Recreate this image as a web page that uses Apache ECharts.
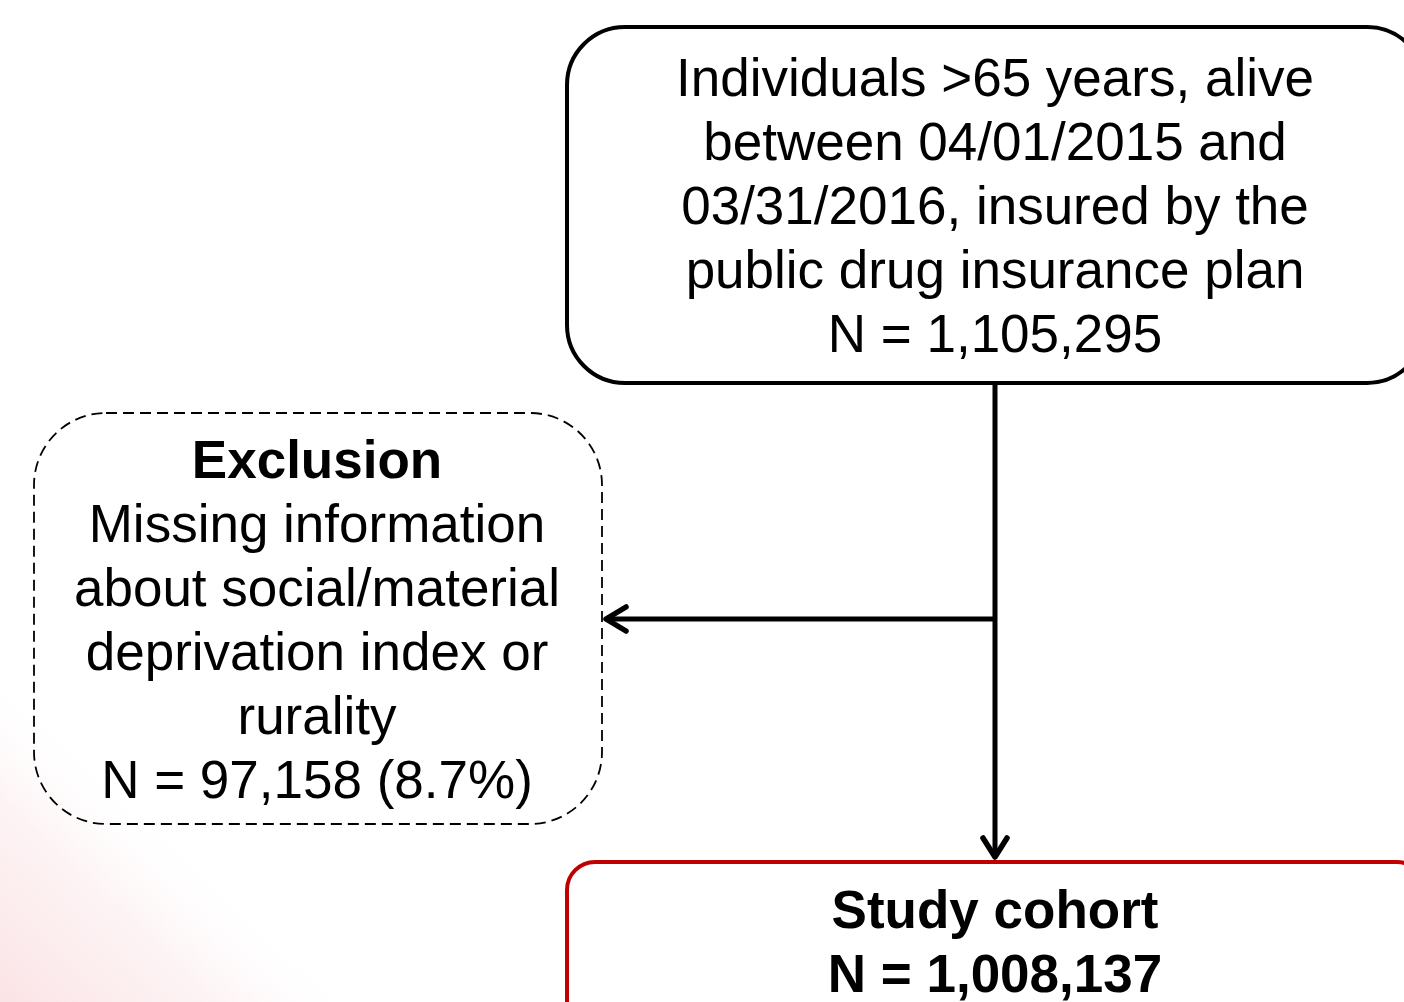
<!DOCTYPE html>
<html>
<head>
<meta charset="utf-8">
<script src="https://cdn.jsdelivr.net/npm/echarts@6/dist/echarts.min.js"></script>
<style>
  html, body { margin: 0; padding: 0; background: #fff; }
  #flow { width: 1404px; height: 1002px; }
</style>
</head>
<body>
<div id="flow"></div>
<script>
// flowchart content
var inclusionLines = ['Individuals >65 years, alive', 'between 04/01/2015 and', '03/31/2016, insured by the', 'public drug insurance plan'];
var inclusionN = 1105295;
var exclusionTitle = 'Exclusion';
var exclusionLines = ['Missing information', 'about social/material', 'deprivation index or', 'rurality'];
var exclusionN = 97158;
var exclusionPct = 8.7;
var cohortTitle = 'Study cohort';
var cohortN = 1008137;

function fmt(n) {
    return 'N = ' + n.toLocaleString('en-US');
}

var chart = echarts.init(document.getElementById('flow'));
var FONT = '"Liberation Sans", Arial, sans-serif';
var LINE_H = 64;

// text block helper, one text element per line
function textBlock(lines, cx, y0, bold) {
    return lines.map(function (t, i) {
        return {
            type: 'text',
            x: cx,
            y: y0 + i * LINE_H,
            style: {
                text: t,
                fill: '#000',
                font: (bold && bold[i] ? 'bold ' : '') + '53px ' + FONT,
                align: 'center',
                verticalAlign: 'middle'
            }
        };
    });
}

var topText = inclusionLines.concat([fmt(inclusionN)]);
var exclText = [exclusionTitle].concat(exclusionLines, [fmt(exclusionN) + ' (' + exclusionPct + '%)']);
var cohortText = [cohortTitle, fmt(cohortN)];

var elements = [
    /*淡粉色背景*/
    {
        type: 'polygon',
        shape: { points: [[0, 640], [340, 1002], [0, 1002]] },
        style: {
            fill: new echarts.graphic.LinearGradient(0, 1, 1, 0, [
                { offset: 0, color: 'rgba(248,208,212,0.6)' },
                { offset: 0.3, color: 'rgba(250,222,225,0.35)' },
                { offset: 0.5, color: 'rgba(255,255,255,0)' },
                { offset: 1, color: 'rgba(255,255,255,0)' }
            ])
        },
        z: 0
    },
    // 顶部框
    {
        type: 'rect',
        shape: { x: 567, y: 27, width: 858, height: 356, r: 58 },
        style: { fill: '#fff', stroke: '#000', lineWidth: 4 },
        z: 1
    },
    // 排除框 (虚线)
    {
        type: 'rect',
        shape: { x: 34, y: 413, width: 568, height: 411, r: 72 },
        style: { fill: 'rgba(255,255,255,0)', stroke: '#000', lineWidth: 1.8, lineDash: [11, 6] },
        z: 1
    },
    // 研究队列框
    {
        type: 'rect',
        shape: { x: 567, y: 862, width: 858, height: 200, r: 28 },
        style: { fill: '#fff', stroke: '#c00000', lineWidth: 4 },
        z: 1
    },
    // 竖线
    {
        type: 'polyline',
        shape: { points: [[995, 383], [995, 857]] },
        style: { stroke: '#000', lineWidth: 5 },
        z: 2
    },
    {
        type: 'polyline',
        shape: { points: [[983, 838], [995, 857], [1007, 838]] },
        style: { stroke: '#000', lineWidth: 5.5, lineCap: 'round', lineJoin: 'round', fill: null },
        z: 2
    },
    // 横线
    {
        type: 'polyline',
        shape: { points: [[995, 619], [606, 619]] },
        style: { stroke: '#000', lineWidth: 5 },
        z: 2
    },
    {
        type: 'polyline',
        shape: { points: [[626, 607], [606, 619], [626, 631]] },
        style: { stroke: '#000', lineWidth: 5.5, lineCap: 'round', lineJoin: 'round', fill: null },
        z: 2
    }
];

var texts = []
    .concat(textBlock(topText, 995, 81))
    .concat(textBlock(exclText, 317, 463, [true]))
    .concat(textBlock(cohortText, 995, 913, [true, true]));
texts.forEach(function (t) { t.z = 3; });

chart.setOption({
    animation: false,
    graphic: { elements: elements.concat(texts) }
});
</script>
</body>
</html>
